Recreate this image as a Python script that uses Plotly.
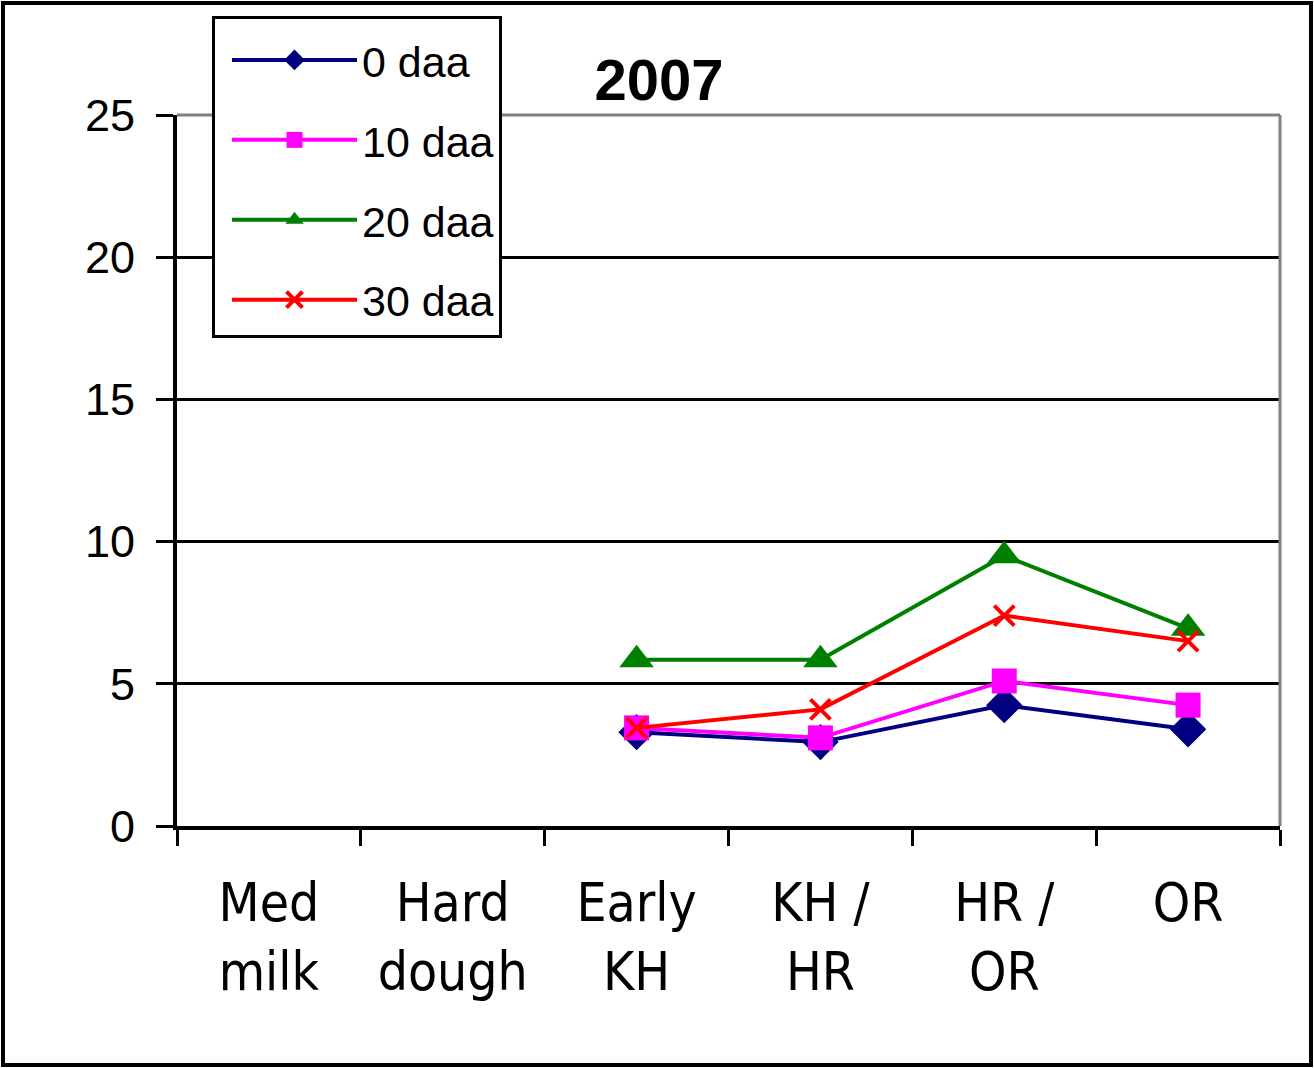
import plotly.graph_objects as go

categories = ["Med<br>milk", "Hard<br>dough", "Early<br>KH", "KH /<br>HR", "HR /<br>OR", "OR"]
series_names = ["0 daa", "10 daa", "20 daa", "30 daa"]
daa0 = [None, None, 3.3, 2.95, 4.25, 3.4]
daa10 = [None, None, 3.45, 3.1, 5.1, 4.25]
daa20 = [None, None, 5.85, 5.85, 9.5, 6.95]
daa30 = [None, None, 3.45, 4.1, 7.4, 6.5]
y_ticks = [0, 5, 10, 15, 20, 25]
title_text = "2007"

colors = ["#000080", "#FF00FF", "#008000", "#FF0000"]
symbols = ["diamond", "square", "triangle-up", "x-thin"]
sizes = [28, 25, 30, 20]
values = [daa0, daa10, daa20, daa30]

FONT = "Liberation Sans, Arial, sans-serif"
NARROW = "Liberation Sans Narrow, Arial Narrow, DejaVu Sans Condensed, Liberation Sans, sans-serif"

fig = go.Figure()
for name, col, sym, sz, vals in zip(series_names, colors, symbols, sizes, values):
    marker = dict(symbol=sym, size=sz, color=col)
    if sym == "x-thin":
        marker["line"] = dict(color=col, width=4)
    fig.add_trace(go.Scatter(
        x=categories, y=vals, name=name, mode="lines+markers",
        line=dict(color=col, width=4), marker=marker,
        legendgroup=name, connectgaps=False,
    ))

L, R, T, B = 177, 34, 115, 242
W, H = 1314, 1068
pw, ph = W - L - R, H - T - B

def px_x(p):
    return (p - L) / pw

def px_y(p):
    return (H - B - p) / ph

fig.update_layout(
    width=W, height=H,
    margin=dict(l=L, r=R, t=T, b=B),
    paper_bgcolor="white", plot_bgcolor="white",
    font=dict(family=FONT, color="black"),
    title=dict(text="<b>" + title_text + "</b>", x=px_x(659), xref="paper", xanchor="center",
               y=(H - 80) / H, yref="container", yanchor="middle",
               font=dict(size=58, family=FONT, color="black")),
    showlegend=True,
    legend=dict(x=px_x(212), y=px_y(16), xanchor="left", yanchor="top",
                bgcolor="white", bordercolor="black", borderwidth=3,
                font=dict(size=43, family=FONT, color="black"),
                title=dict(text="&nbsp;", font=dict(size=5)),
                tracegroupgap=21, itemwidth=125, indentation=12),
    xaxis=dict(type="category", categoryorder="array", categoryarray=categories,
               range=[-0.5, 5.5], tickson="boundaries", ticks="outside", ticklen=16,
               tickwidth=3, tickcolor="black", showline=True, linecolor="black", linewidth=4,
               showgrid=False, tickfont=dict(size=53, family=NARROW, color="black"),
               ticklabelstandoff=27),
    yaxis=dict(range=[0, 25], tickvals=y_ticks, ticks="outside", ticklen=17, tickwidth=3,
               tickcolor="black", showline=True, linecolor="black", linewidth=4,
               showgrid=True, gridcolor="black", gridwidth=3, zeroline=False,
               tickfont=dict(size=45, family=FONT, color="black"), ticklabelstandoff=12),
    shapes=[
        dict(type="line", xref="paper", yref="paper", x0=0, x1=1, y0=1, y1=1,
             line=dict(color="#808080", width=3), layer="above"),
        dict(type="line", xref="paper", yref="paper", x0=1, x1=1, y0=0, y1=1,
             line=dict(color="#808080", width=3), layer="above"),
        dict(type="rect", xref="paper", yref="paper", x0=px_x(3), x1=px_x(1311),
             y0=px_y(1065), y1=px_y(3), line=dict(color="black", width=4), layer="above"),
    ],
)

fig.write_html("out.html", config={"displayModeBar": False},
               post_script="document.body.style.margin='0';")
